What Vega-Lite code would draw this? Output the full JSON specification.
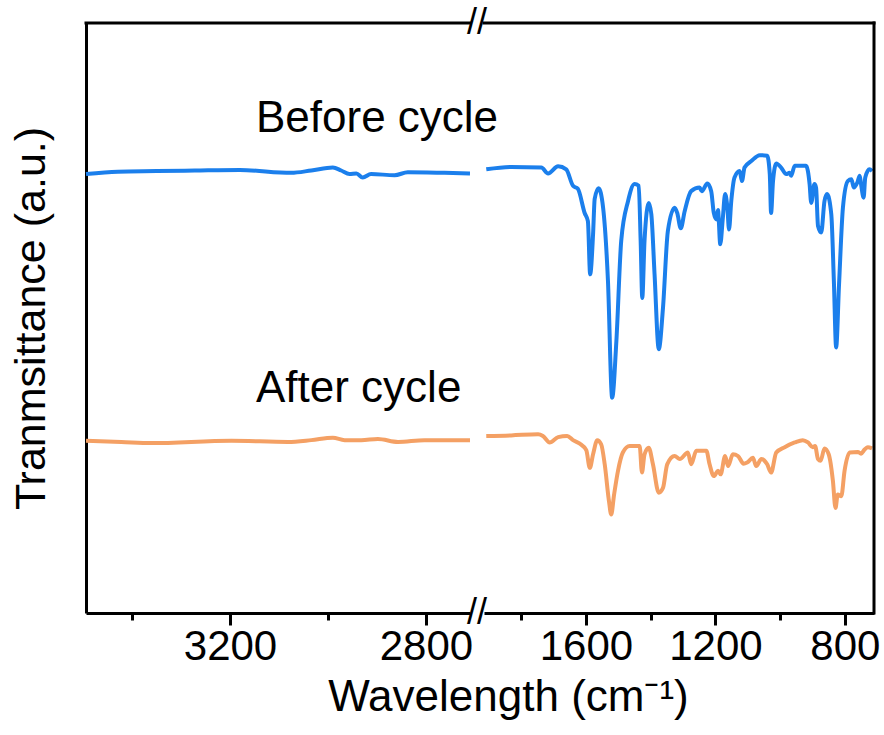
{
  "$schema": "https://vega.github.io/schema/vega-lite/v6.json",
  "background": "white",
  "padding": {"left": 10, "top": 5, "right": 5, "bottom": 5},
  "spacing": 14,
  "bounds": "flush",
  "config": {"view": {"stroke": null}, "font": "Liberation Sans"},
  "datasets": {
    "left": [
      {"s": "Before cycle", "wn": 3494, "T": 74.4}, {"s": "Before cycle", "wn": 3429, "T": 74.8}, {"s": "Before cycle", "wn": 3350, "T": 74.9}, {"s": "Before cycle", "wn": 3272, "T": 75.0}, {"s": "Before cycle", "wn": 3180, "T": 75.1}, {"s": "Before cycle", "wn": 3075, "T": 74.6}, {"s": "Before cycle", "wn": 3034, "T": 75.0}, {"s": "Before cycle", "wn": 2990, "T": 75.5}, {"s": "Before cycle", "wn": 2973, "T": 75.0}, {"s": "Before cycle", "wn": 2956, "T": 74.4}, {"s": "Before cycle", "wn": 2942, "T": 74.5}, {"s": "Before cycle", "wn": 2929, "T": 73.8}, {"s": "Before cycle", "wn": 2912, "T": 74.4}, {"s": "Before cycle", "wn": 2864, "T": 74.2}, {"s": "Before cycle", "wn": 2837, "T": 74.7}, {"s": "Before cycle", "wn": 2762, "T": 74.6}, {"s": "Before cycle", "wn": 2710, "T": 74.5},
      {"s": "After cycle", "wn": 3494, "T": 29.2}, {"s": "After cycle", "wn": 3422, "T": 29.0}, {"s": "After cycle", "wn": 3361, "T": 28.8}, {"s": "After cycle", "wn": 3197, "T": 29.2}, {"s": "After cycle", "wn": 3082, "T": 29.0}, {"s": "After cycle", "wn": 3034, "T": 29.3}, {"s": "After cycle", "wn": 2990, "T": 29.7}, {"s": "After cycle", "wn": 2966, "T": 29.3}, {"s": "After cycle", "wn": 2932, "T": 29.3}, {"s": "After cycle", "wn": 2898, "T": 29.5}, {"s": "After cycle", "wn": 2857, "T": 29.0}, {"s": "After cycle", "wn": 2803, "T": 29.3}, {"s": "After cycle", "wn": 2710, "T": 29.3}
    ],
    "right": [
      {"s": "Before cycle", "wn": 1908, "T": 75.2}, {"s": "Before cycle", "wn": 1831, "T": 75.6}, {"s": "Before cycle", "wn": 1738, "T": 75.5}, {"s": "Before cycle", "wn": 1717, "T": 74.5}, {"s": "Before cycle", "wn": 1686, "T": 75.7}, {"s": "Before cycle", "wn": 1661, "T": 75.2}, {"s": "Before cycle", "wn": 1640, "T": 72.4}, {"s": "Before cycle", "wn": 1625, "T": 71.9}, {"s": "Before cycle", "wn": 1604, "T": 67.8}, {"s": "Before cycle", "wn": 1594, "T": 66.4}, {"s": "Before cycle", "wn": 1587, "T": 57.4}, {"s": "Before cycle", "wn": 1578, "T": 64.2}, {"s": "Before cycle", "wn": 1573, "T": 70.2}, {"s": "Before cycle", "wn": 1561, "T": 72.0}, {"s": "Before cycle", "wn": 1547, "T": 68.7}, {"s": "Before cycle", "wn": 1532, "T": 56.3}, {"s": "Before cycle", "wn": 1519, "T": 36.5}, {"s": "Before cycle", "wn": 1506, "T": 46.1}, {"s": "Before cycle", "wn": 1491, "T": 63.1}, {"s": "Before cycle", "wn": 1470, "T": 69.8}, {"s": "Before cycle", "wn": 1450, "T": 72.7}, {"s": "Before cycle", "wn": 1437, "T": 72.4}, {"s": "Before cycle", "wn": 1431, "T": 63.1}, {"s": "Before cycle", "wn": 1426, "T": 53.4}, {"s": "Before cycle", "wn": 1419, "T": 63.1}, {"s": "Before cycle", "wn": 1406, "T": 69.5}, {"s": "Before cycle", "wn": 1398, "T": 67.6}, {"s": "Before cycle", "wn": 1388, "T": 57.4}, {"s": "Before cycle", "wn": 1375, "T": 44.7}, {"s": "Before cycle", "wn": 1362, "T": 51.7}, {"s": "Before cycle", "wn": 1347, "T": 64.7}, {"s": "Before cycle", "wn": 1326, "T": 68.7}, {"s": "Before cycle", "wn": 1318, "T": 67.8}, {"s": "Before cycle", "wn": 1307, "T": 65.2}, {"s": "Before cycle", "wn": 1295, "T": 68.1}, {"s": "Before cycle", "wn": 1275, "T": 71.5}, {"s": "Before cycle", "wn": 1249, "T": 72.1}, {"s": "Before cycle", "wn": 1242, "T": 71.5}, {"s": "Before cycle", "wn": 1225, "T": 72.8}, {"s": "Before cycle", "wn": 1213, "T": 71.5}, {"s": "Before cycle", "wn": 1205, "T": 67.8}, {"s": "Before cycle", "wn": 1197, "T": 66.7}, {"s": "Before cycle", "wn": 1192, "T": 68.3}, {"s": "Before cycle", "wn": 1185, "T": 62.5}, {"s": "Before cycle", "wn": 1177, "T": 67.0}, {"s": "Before cycle", "wn": 1170, "T": 71.0}, {"s": "Before cycle", "wn": 1163, "T": 68.7}, {"s": "Before cycle", "wn": 1158, "T": 65.0}, {"s": "Before cycle", "wn": 1151, "T": 69.8}, {"s": "Before cycle", "wn": 1141, "T": 73.8}, {"s": "Before cycle", "wn": 1125, "T": 74.9}, {"s": "Before cycle", "wn": 1118, "T": 73.2}, {"s": "Before cycle", "wn": 1110, "T": 75.5}, {"s": "Before cycle", "wn": 1089, "T": 76.6}, {"s": "Before cycle", "wn": 1063, "T": 77.6}, {"s": "Before cycle", "wn": 1040, "T": 77.5}, {"s": "Before cycle", "wn": 1032, "T": 74.4}, {"s": "Before cycle", "wn": 1028, "T": 67.8}, {"s": "Before cycle", "wn": 1022, "T": 73.2}, {"s": "Before cycle", "wn": 1012, "T": 76.2}, {"s": "Before cycle", "wn": 997, "T": 75.5}, {"s": "Before cycle", "wn": 981, "T": 74.4}, {"s": "Before cycle", "wn": 971, "T": 74.6}, {"s": "Before cycle", "wn": 966, "T": 74.1}, {"s": "Before cycle", "wn": 955, "T": 75.8}, {"s": "Before cycle", "wn": 920, "T": 75.8}, {"s": "Before cycle", "wn": 909, "T": 72.7}, {"s": "Before cycle", "wn": 904, "T": 69.5}, {"s": "Before cycle", "wn": 894, "T": 72.7}, {"s": "Before cycle", "wn": 889, "T": 72.1}, {"s": "Before cycle", "wn": 883, "T": 65.6}, {"s": "Before cycle", "wn": 873, "T": 64.5}, {"s": "Before cycle", "wn": 863, "T": 69.8}, {"s": "Before cycle", "wn": 855, "T": 71.0}, {"s": "Before cycle", "wn": 842, "T": 67.6}, {"s": "Before cycle", "wn": 834, "T": 56.3}, {"s": "Before cycle", "wn": 827, "T": 45.0}, {"s": "Before cycle", "wn": 818, "T": 55.7}, {"s": "Before cycle", "wn": 806, "T": 68.7}, {"s": "Before cycle", "wn": 791, "T": 73.2}, {"s": "Before cycle", "wn": 780, "T": 73.5}, {"s": "Before cycle", "wn": 772, "T": 72.1}, {"s": "Before cycle", "wn": 762, "T": 72.9}, {"s": "Before cycle", "wn": 754, "T": 74.1}, {"s": "Before cycle", "wn": 750, "T": 72.7}, {"s": "Before cycle", "wn": 742, "T": 70.4}, {"s": "Before cycle", "wn": 737, "T": 73.8}, {"s": "Before cycle", "wn": 724, "T": 75.2}, {"s": "Before cycle", "wn": 716, "T": 74.9},
      {"s": "After cycle", "wn": 1908, "T": 30.0}, {"s": "After cycle", "wn": 1831, "T": 30.1}, {"s": "After cycle", "wn": 1748, "T": 30.3}, {"s": "After cycle", "wn": 1733, "T": 30.0}, {"s": "After cycle", "wn": 1712, "T": 28.9}, {"s": "After cycle", "wn": 1686, "T": 29.8}, {"s": "After cycle", "wn": 1658, "T": 30.0}, {"s": "After cycle", "wn": 1640, "T": 29.3}, {"s": "After cycle", "wn": 1619, "T": 28.7}, {"s": "After cycle", "wn": 1599, "T": 27.6}, {"s": "After cycle", "wn": 1588, "T": 24.6}, {"s": "After cycle", "wn": 1578, "T": 26.9}, {"s": "After cycle", "wn": 1565, "T": 29.3}, {"s": "After cycle", "wn": 1553, "T": 28.6}, {"s": "After cycle", "wn": 1542, "T": 25.2}, {"s": "After cycle", "wn": 1529, "T": 19.0}, {"s": "After cycle", "wn": 1522, "T": 16.7}, {"s": "After cycle", "wn": 1513, "T": 20.1}, {"s": "After cycle", "wn": 1501, "T": 24.1}, {"s": "After cycle", "wn": 1486, "T": 27.2}, {"s": "After cycle", "wn": 1465, "T": 28.3}, {"s": "After cycle", "wn": 1434, "T": 28.3}, {"s": "After cycle", "wn": 1427, "T": 23.8}, {"s": "After cycle", "wn": 1419, "T": 26.9}, {"s": "After cycle", "wn": 1406, "T": 28.0}, {"s": "After cycle", "wn": 1393, "T": 25.2}, {"s": "After cycle", "wn": 1375, "T": 20.4}, {"s": "After cycle", "wn": 1362, "T": 21.2}, {"s": "After cycle", "wn": 1349, "T": 25.2}, {"s": "After cycle", "wn": 1326, "T": 26.6}, {"s": "After cycle", "wn": 1310, "T": 26.1}, {"s": "After cycle", "wn": 1285, "T": 27.2}, {"s": "After cycle", "wn": 1275, "T": 25.2}, {"s": "After cycle", "wn": 1259, "T": 27.5}, {"s": "After cycle", "wn": 1228, "T": 27.5}, {"s": "After cycle", "wn": 1218, "T": 25.2}, {"s": "After cycle", "wn": 1205, "T": 23.2}, {"s": "After cycle", "wn": 1192, "T": 24.1}, {"s": "After cycle", "wn": 1184, "T": 23.5}, {"s": "After cycle", "wn": 1170, "T": 26.6}, {"s": "After cycle", "wn": 1161, "T": 24.9}, {"s": "After cycle", "wn": 1146, "T": 26.9}, {"s": "After cycle", "wn": 1130, "T": 26.6}, {"s": "After cycle", "wn": 1113, "T": 25.3}, {"s": "After cycle", "wn": 1102, "T": 25.5}, {"s": "After cycle", "wn": 1084, "T": 26.3}, {"s": "After cycle", "wn": 1074, "T": 24.9}, {"s": "After cycle", "wn": 1058, "T": 26.1}, {"s": "After cycle", "wn": 1040, "T": 25.2}, {"s": "After cycle", "wn": 1028, "T": 23.8}, {"s": "After cycle", "wn": 1012, "T": 27.2}, {"s": "After cycle", "wn": 986, "T": 28.1}, {"s": "After cycle", "wn": 955, "T": 28.9}, {"s": "After cycle", "wn": 930, "T": 29.3}, {"s": "After cycle", "wn": 914, "T": 28.9}, {"s": "After cycle", "wn": 899, "T": 28.1}, {"s": "After cycle", "wn": 892, "T": 28.3}, {"s": "After cycle", "wn": 883, "T": 26.1}, {"s": "After cycle", "wn": 875, "T": 25.8}, {"s": "After cycle", "wn": 863, "T": 27.9}, {"s": "After cycle", "wn": 850, "T": 26.9}, {"s": "After cycle", "wn": 837, "T": 22.4}, {"s": "After cycle", "wn": 829, "T": 17.8}, {"s": "After cycle", "wn": 822, "T": 20.1}, {"s": "After cycle", "wn": 811, "T": 19.8}, {"s": "After cycle", "wn": 801, "T": 24.1}, {"s": "After cycle", "wn": 785, "T": 27.2}, {"s": "After cycle", "wn": 760, "T": 27.3}, {"s": "After cycle", "wn": 750, "T": 27.0}, {"s": "After cycle", "wn": 739, "T": 27.7}, {"s": "After cycle", "wn": 729, "T": 28.1}, {"s": "After cycle", "wn": 716, "T": 27.9}
    ],
    "notes": [
      {"wn": 3147, "T": 81.5, "label": "Before cycle"},
      {"wn": 3147, "T": 35.8, "label": "After cycle"}
    ],
    "one": [{}]
  },
  "hconcat": [
    {
      "width": 384,
      "height": 590,
      "layer": [
        {
          "data": {"name": "left"},
          "mark": {"type": "line", "strokeWidth": 4, "interpolate": "monotone"},
          "encoding": {
            "x": {"field": "wn", "type": "quantitative",
              "scale": {"domain": [2710, 3494], "reverse": true, "nice": false, "zero": false},
              "axis": {"values": [3400, 3200, 3000, 2800], "format": "d",
                "labelExpr": "datum.value % 400 === 0 ? datum.label : ''",
                "tickSize": {"condition": {"test": "datum.value % 400 === 0", "value": 12}, "value": 7},
                "tickWidth": 3, "tickColor": "black", "domainWidth": 3, "domainColor": "black",
                "labelFontSize": 42, "labelColor": "black", "labelPadding": 1, "grid": false,
                "title": "Wavelength (cm⁻¹)", "titleFontSize": 44, "titleFontWeight": "normal", "titleColor": "black",
                "titleX": 422, "titleY": 97, "titleAlign": "center", "titleBaseline": "alphabetic", "titleAnchor": null}},
            "y": {"field": "T", "type": "quantitative",
              "scale": {"domain": [0, 100], "nice": false, "zero": false},
              "axis": {"orient": "left", "ticks": false, "labels": false, "domainWidth": 3, "domainColor": "black", "grid": false,
                "title": "Tranmsittance (a.u.)", "titleFontSize": 43, "titleFontWeight": "normal", "titleColor": "black", "titlePadding": 33}},
            "color": {"field": "s", "type": "nominal", "legend": null,
              "scale": {"domain": ["Before cycle", "After cycle"], "range": ["#1B7FEC", "#F4A064"]}}
          }
        },
        {
          "data": {"name": "one"},
          "mark": {"type": "rule", "strokeWidth": 3, "color": "black", "strokeCap": "square"},
          "encoding": {"y": {"datum": 100, "type": "quantitative"}}
        },
        {
          "data": {"name": "one"},
          "mark": {"type": "text", "text": "//", "fontSize": 36, "dx": 7, "align": "center", "baseline": "middle", "color": "black"},
          "encoding": {"x": {"datum": 2710, "type": "quantitative"}, "y": {"datum": 100, "type": "quantitative"}}
        },
        {
          "data": {"name": "one"},
          "mark": {"type": "text", "text": "//", "fontSize": 36, "dx": 7, "align": "center", "baseline": "middle", "color": "black"},
          "encoding": {"x": {"datum": 2710, "type": "quantitative"}, "y": {"datum": 0, "type": "quantitative"}}
        },
        {
          "data": {"name": "notes"},
          "mark": {"type": "text", "fontSize": 44, "align": "left", "baseline": "alphabetic", "color": "black"},
          "encoding": {"x": {"field": "wn", "type": "quantitative"}, "y": {"field": "T", "type": "quantitative"}, "text": {"field": "label"}}
        }
      ]
    },
    {
      "width": 390,
      "height": 590,
      "layer": [
        {
          "data": {"name": "right"},
          "mark": {"type": "line", "strokeWidth": 4, "interpolate": "monotone"},
          "encoding": {
            "x": {"field": "wn", "type": "quantitative",
              "scale": {"domain": [710, 1915], "reverse": true, "nice": false, "zero": false},
              "axis": {"values": [1800, 1600, 1400, 1200, 1000, 800], "format": "d",
                "labelExpr": "datum.value % 400 === 0 ? datum.label : ''",
                "tickSize": {"condition": {"test": "datum.value % 400 === 0", "value": 12}, "value": 7},
                "tickWidth": 3, "tickColor": "black", "domainWidth": 3, "domainColor": "black",
                "labelFontSize": 42, "labelColor": "black", "labelPadding": 1, "grid": false, "title": null}},
            "y": {"field": "T", "type": "quantitative",
              "scale": {"domain": [0, 100], "nice": false, "zero": false}, "axis": null},
            "color": {"field": "s", "type": "nominal", "legend": null,
              "scale": {"domain": ["Before cycle", "After cycle"], "range": ["#1B7FEC", "#F4A064"]}}
          }
        },
        {
          "data": {"name": "one"},
          "mark": {"type": "rule", "strokeWidth": 3, "color": "black", "strokeCap": "square"},
          "encoding": {"y": {"datum": 100, "type": "quantitative"}}
        },
        {
          "data": {"name": "one"},
          "mark": {"type": "rule", "strokeWidth": 3, "color": "black", "strokeCap": "square"},
          "encoding": {"x": {"datum": 710, "type": "quantitative"}}
        }
      ]
    }
  ]
}
